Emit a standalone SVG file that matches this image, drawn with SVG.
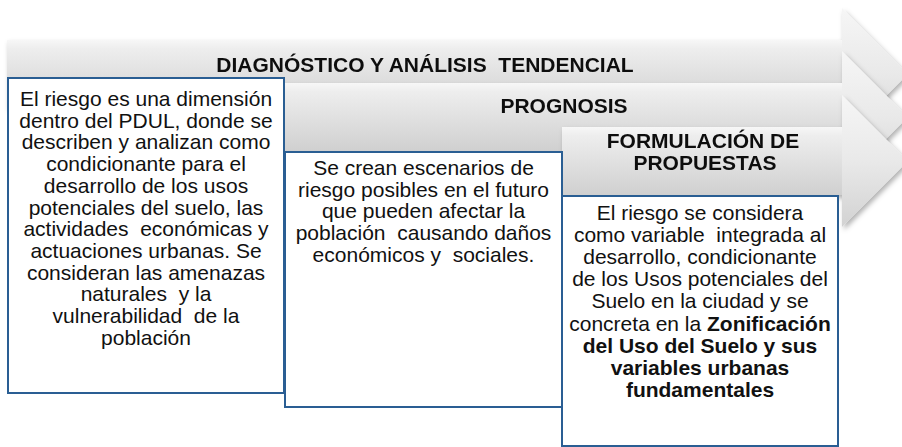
<svg xmlns="http://www.w3.org/2000/svg" width="902" height="447" viewBox="0 0 902 447">
<defs>
<linearGradient id="gBody" x1="0" y1="0" x2="0" y2="1">
<stop offset="0" stop-color="#f7f7f7"/>
<stop offset="0.12" stop-color="#eeeeee"/>
<stop offset="1" stop-color="#d0d0d0"/>
</linearGradient>
<linearGradient id="gHead" x1="0" y1="0" x2="0" y2="1">
<stop offset="0" stop-color="#f6f6f6"/>
<stop offset="0.5" stop-color="#e9e9e9"/>
<stop offset="1" stop-color="#d2d2d2"/>
</linearGradient>
<filter id="sh" x="-5%" y="-20%" width="115%" height="150%">
<feDropShadow dx="2" dy="3" stdDeviation="2.5" flood-color="#000" flood-opacity="0.3"/>
</filter>
</defs>
<style>
.body{fill:url(#gBody);}
.head{fill:url(#gHead);}
.box{fill:#ffffff;stroke:#2a5e93;stroke-width:2;}
.t{font-family:"Liberation Sans",Arial,sans-serif;font-size:21px;fill:#111;text-anchor:middle;white-space:pre;}
.b{font-weight:bold;}
</style>
<g id="connectors"></g>
<g id="arrow1" filter="url(#sh)">
<polygon class="head" points="842,8 908,74 842,140"/>
<rect class="body" x="7" y="40" width="835" height="68"/>
<text class="t b" x="425" y="72">DIAGNÓSTICO Y ANÁLISIS  TENDENCIAL</text>
</g>
<g id="arrow2" filter="url(#sh)">
<polygon class="head" points="842,51 908,117 842,183"/>
<rect class="body" x="285" y="83" width="557" height="68"/>
<text class="t b" x="564" y="113">PROGNOSIS</text>
</g>
<g id="arrow3" filter="url(#sh)">
<polygon class="head" points="842,95 908,161 842,227"/>
<rect class="body" x="562" y="127" width="280" height="68"/>
<text class="t b" x="703" y="148">FORMULACIÓN DE</text>
<text class="t b" x="705" y="170">PROPUESTAS</text>
</g>
<g id="box1">
<rect class="box" x="8" y="78" width="276" height="315"/>
<text class="t" x="146" y="106">El riesgo es una dimensión</text>
<text class="t" x="146" y="127.7">dentro del PDUL, donde se</text>
<text class="t" x="146" y="149.4">describen y analizan como</text>
<text class="t" x="146" y="171.1">condicionante para el</text>
<text class="t" x="146" y="192.8">desarrollo de los usos</text>
<text class="t" x="146" y="214.5">potenciales del suelo, las</text>
<text class="t" x="146" y="236.2">actividades  económicas y</text>
<text class="t" x="146" y="257.9">actuaciones urbanas. Se</text>
<text class="t" x="146" y="279.6">consideran las amenazas</text>
<text class="t" x="146" y="301.3">naturales  y la</text>
<text class="t" x="146" y="323">vulnerabilidad  de la</text>
<text class="t" x="146" y="344.7">población</text>
</g>
<g id="box2">
<rect class="box" x="285" y="152" width="277" height="255"/>
<text class="t" x="423.5" y="175">Se crean escenarios de</text>
<text class="t" x="423.5" y="196.7">riesgo posibles en el futuro</text>
<text class="t" x="423.5" y="218.4">que pueden afectar la</text>
<text class="t" x="423.5" y="240.1">población  causando daños</text>
<text class="t" x="423.5" y="261.8">económicos y  sociales.</text>
</g>
<g id="box3">
<rect class="box" x="562" y="196" width="276" height="250"/>
<text class="t" x="700" y="220">El riesgo se considera</text>
<text class="t" x="700" y="242.1">como variable  integrada al</text>
<text class="t" x="700" y="264.2">desarrollo, condicionante</text>
<text class="t" x="700" y="286.3">de los Usos potenciales del</text>
<text class="t" x="700" y="308.4">Suelo en la ciudad y se</text>
<text class="t" x="700" y="330.5">concreta en la <tspan class="b">Zonificación</tspan></text>
<text class="t b" x="700" y="352.6">del Uso del Suelo y sus</text>
<text class="t b" x="700" y="374.7">variables urbanas</text>
<text class="t b" x="700" y="396.8">fundamentales</text>
</g>
</svg>
